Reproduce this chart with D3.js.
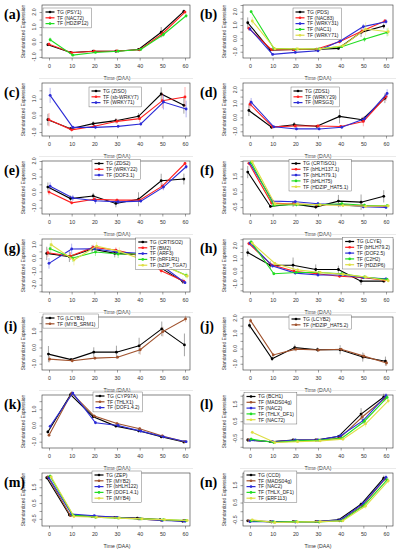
<!DOCTYPE html>
<html><head><meta charset="utf-8">
<script src="https://cdn.jsdelivr.net/npm/d3@7"></script>
<style>body{margin:0;background:#fff}svg{display:block}</style>
</head><body>
<svg id="c" width="396" height="550"></svg>
<script>
const times = [0,10,20,30,40,50,60];
const xTickLabels = ["0","10","20","30","40","50","60"];

// (a)
const aNames = ["TG (PSY1)","TF (NAC72)","TF (HDZIP12)"];
const aS0 = [-0.18,-0.70,-0.62,-0.62,-0.50,0.65,2.05];
const aS1 = [-0.15,-0.72,-0.62,-0.60,-0.52,0.55,2.00];
const aS2 = [0.15,-0.88,-0.70,-0.62,-0.50,0.50,1.75];
const aE0 = [0.10,0.05,0.05,0.05,0.05,0.35,0.12];
const aE1 = [0.10,0.05,0.05,0.05,0.05,0.20,0.10];
const aE2 = [0.15,0.05,0.05,0.05,0.05,0.15,0.15];
// (b)
const bNames = ["TG (PDS)","TF (NAC83)","TF (WRKY31)","TF (NAC1)","TF (WRKY71)"];
const bS0 = [1.17,-0.88,-0.83,-0.83,-0.75,0.45,0.92];
const bS1 = [0.75,-0.85,-0.85,-0.80,-0.25,0.55,1.30];
const bS2 = [0.70,-1.20,-1.05,-0.93,-0.18,0.88,1.25];
const bS3 = [2.00,-0.75,-0.80,-0.78,-0.62,-0.07,0.45];
const bS4 = [1.30,-0.78,-0.78,-0.80,-0.55,0.70,0.50];
const bE0 = [0.40,0.10,0.05,0.05,0.10,0.35,0.20];
const bE1 = [0.20,0.10,0.10,0.10,0.15,0.20,0.15];
const bE2 = [0.15,0.10,0.10,0.10,0.15,0.20,0.20];
const bE3 = [0.10,0.10,0.05,0.05,0.10,0.20,0.30];
const bE4 = [0.30,0.10,0.05,0.05,0.10,0.50,0.30];
// (c)
const cNames = ["TG (ZISO)","TF (sb-WRKY7)","TF (WRKY71)"];
const cS0 = [-0.26,-0.80,-0.50,-0.32,-0.06,1.28,0.60];
const cS1 = [-0.26,-0.87,-0.66,-0.36,-0.20,0.88,1.10];
const cS2 = [1.20,-0.72,-0.72,-0.66,-0.52,0.80,0.38];
const cE0 = [0.35,0.10,0.15,0.15,0.20,0.40,0.50];
const cE1 = [0.40,0.10,0.10,0.15,0.20,0.45,0.60];
const cE2 = [0.45,0.10,0.10,0.10,0.10,0.45,0.50];
// (d)
const dNames = ["TG (ZDS1)","TF (WRKY29)","TF (MRSG3)"];
const dS0 = [0.50,-0.71,-0.53,-0.64,0.07,-0.17,1.38];
const dS1 = [0.95,-0.68,-0.62,-0.62,-0.65,-0.29,1.50];
const dS2 = [1.10,-0.68,-0.83,-0.83,-0.71,-0.10,1.73];
const dE0 = [0.40,0.10,0.20,0.10,0.50,0.20,0.35];
const dE1 = [0.30,0.10,0.10,0.10,0.10,0.35,0.30];
const dE2 = [0.30,0.10,0.10,0.10,0.10,0.20,0.30];
// (e)
const eNames = ["TG (ZDS2)","TF (WRKY22)","TF (DOF3.1)"];
const eS0 = [0.32,-0.42,-0.25,-0.73,-0.46,0.73,0.84];
const eS1 = [0.00,-0.69,-0.46,-0.52,-0.52,0.38,1.84];
const eS2 = [0.38,-0.38,-0.56,-0.63,-0.58,0.32,1.63];
const eE0 = [0.30,0.20,0.20,0.25,0.45,0.45,0.35];
const eE1 = [0.20,0.10,0.15,0.10,0.10,0.20,0.10];
const eE2 = [0.25,0.20,0.20,0.15,0.10,0.20,0.15];
// (f)
const fNames = ["TG (CRTISO1)","TF (bHLH137.1)","TF (bHLH79.1)","TF (bHLH75)","TF (HDZIP_HAT5.1)"];
const fS0 = [1.78,-0.46,-0.29,-0.50,-0.11,-0.18,0.20];
const fS1 = [2.35,-0.24,-0.30,-0.35,-0.35,-0.42,-0.45];
const fS2 = [2.35,-0.11,-0.15,-0.28,-0.35,-0.48,-0.52];
const fS3 = [2.40,-0.38,-0.35,-0.35,-0.28,-0.38,-0.40];
const fS4 = [2.45,-0.30,-0.30,-0.35,-0.40,-0.45,-0.42];
const fE0 = [0.40,0.10,0.20,0.10,0.40,0.50,0.40];
const fE1 = [0.10,0.10,0.10,0.10,0.10,0.10,0.10];
const fE2 = [0.10,0.10,0.10,0.10,0.10,0.10,0.10];
const fE3 = [0.10,0.10,0.10,0.10,0.10,0.10,0.10];
const fE4 = [0.10,0.10,0.10,0.10,0.10,0.10,0.10];
// (g)
const gNames = ["TG (CRTISO2)","TF (BM2)","TF (ARF3)","TF (bRF1R1)","TF (bZIP_TGA7)"];
const gS0 = [0.35,0.10,0.68,0.35,0.25,-0.70,-1.75];
const gS1 = [0.40,0.15,0.80,0.60,0.20,-0.95,-1.75];
const gS2 = [-0.40,0.68,0.70,0.45,0.35,-0.60,-1.85];
const gS3 = [0.70,0.00,0.45,0.30,0.30,-0.55,-1.30];
const gS4 = [1.00,-0.15,0.90,0.50,-0.10,-0.60,-1.35];
const gE0 = [0.50,0.40,0.30,0.30,0.20,0.20,0.20];
const gE1 = [0.30,0.30,0.20,0.20,0.20,0.20,0.15];
const gE2 = [0.40,0.40,0.20,0.20,0.20,0.20,0.10];
const gE3 = [0.40,0.30,0.30,0.30,0.30,0.20,0.20];
const gE4 = [0.50,0.40,0.30,0.30,0.30,0.20,0.20];
// (h)
const hNames = ["TG (LCYE)","TF (bHLH79.2)","TF (DOF2.5)","TF (C2H2)","TF (HDZIP6)"];
const hS0 = [1.46,0.47,0.47,0.13,0.13,-0.78,-0.78];
const hS1 = [2.16,0.50,0.00,-0.20,-0.40,-0.50,-0.70];
const hS2 = [2.20,0.40,-0.15,-0.30,-0.30,-0.50,-0.60];
const hS3 = [2.30,-0.20,-0.10,-0.10,-0.20,-0.45,-0.65];
const hS4 = [2.20,0.60,0.10,-0.10,-0.25,-0.45,-0.75];
const hE0 = [0.30,0.30,0.60,0.40,0.30,0.30,0.10];
const hE1 = [0.15,0.10,0.10,0.10,0.10,0.10,0.10];
const hE2 = [0.15,0.10,0.10,0.10,0.10,0.10,0.10];
const hE3 = [0.10,0.10,0.10,0.10,0.10,0.10,0.10];
const hE4 = [0.15,0.10,0.10,0.10,0.10,0.10,0.10];
// (i)
const iNames = ["TG (LCYB1)","TF (MYB_SRM1)"];
const iS0 = [-0.41,-0.75,-0.29,-0.29,0.10,1.15,0.16];
const iS1 = [-0.72,-0.82,-0.66,-0.60,-0.14,0.98,1.76];
const iE0 = [0.50,0.10,0.30,0.40,0.50,0.45,0.70];
const iE1 = [0.20,0.10,0.10,0.10,0.30,0.30,0.20];
// (j)
const jNames = ["TG (LCYB2)","TF (HDZIP_HAT5.2)"];
const jS0 = [1.52,-0.67,0.06,-0.08,-0.08,-0.56,-0.83];
const jS1 = [1.83,-0.42,-0.04,-0.10,-0.05,-0.50,-0.95];
const jE0 = [0.20,0.15,0.20,0.15,0.30,0.30,0.30];
const jE1 = [0.15,0.10,0.15,0.10,0.10,0.20,0.20];
// (k)
const kNames = ["TG (CYP97A)","TF (THLX1)","TF (DOF1.4.2)"];
const kS0 = [-0.40,1.90,0.54,-0.04,-0.33,-0.70,-1.02];
const kS1 = [-0.60,2.00,0.58,0.12,-0.20,-0.65,-1.00];
const kS2 = [-0.05,2.00,0.17,0.00,-0.35,-0.70,-1.00];
const kE0 = [0.10,0.10,0.10,0.10,0.10,0.10,0.05];
const kE1 = [0.10,0.10,0.10,0.10,0.10,0.10,0.05];
const kE2 = [0.10,0.10,0.10,0.10,0.10,0.10,0.05];
// (l)
const lNames = ["TG (BCH1)","TF (MADS04g)","TF (NAC2)","TF (THLX_DF1)","TF (NAC72)"];
const lS0 = [-0.60,-0.70,-0.60,-0.60,-0.40,0.92,1.92];
const lS1 = [-0.60,-0.70,-0.62,-0.60,-0.50,0.75,1.85];
const lS2 = [-0.62,-0.70,-0.60,-0.60,-0.35,0.55,2.00];
const lS3 = [-0.55,-0.75,-0.65,-0.62,-0.50,0.50,1.90];
const lS4 = [-0.15,-0.75,-0.70,-0.65,-0.55,0.35,1.70];
const lE0 = [0.10,0.05,0.05,0.05,0.10,0.35,0.20];
const lE1 = [0.10,0.05,0.05,0.05,0.10,0.30,0.20];
const lE2 = [0.10,0.05,0.05,0.05,0.10,0.20,0.15];
const lE3 = [0.10,0.05,0.05,0.05,0.10,0.20,0.15];
const lE4 = [0.10,0.05,0.05,0.05,0.10,0.20,0.15];
// (m)
const mNames = ["TG (ZEP)","TF (MYB2)","TF (bHLH122)","TF (DOF1.4.1)","TF (MYB4)"];
const mS0 = [2.10,-0.25,-0.35,-0.40,-0.45,-0.55,-0.65];
const mS1 = [2.15,-0.30,-0.35,-0.40,-0.50,-0.60,-0.60];
const mS2 = [2.10,-0.20,-0.30,-0.40,-0.50,-0.60,-0.65];
const mS3 = [2.20,-0.25,-0.40,-0.45,-0.50,-0.55,-0.60];
const mS4 = [2.15,-0.35,-0.40,-0.45,-0.50,-0.55,-0.60];
const mE0 = [0.10,0.10,0.05,0.05,0.05,0.05,0.05];
const mE1 = [0.10,0.05,0.05,0.05,0.05,0.05,0.05];
const mE2 = [0.10,0.05,0.05,0.05,0.05,0.05,0.05];
const mE3 = [0.10,0.05,0.05,0.05,0.05,0.05,0.05];
const mE4 = [0.10,0.05,0.05,0.05,0.05,0.05,0.05];
// (n)
const nNames = ["TG (CCD)","TF (MADS04g)","TF (NAC2)","TF (THLX_DF1)","TF (ERF113)"];
const nS0 = [-0.55,-0.60,-0.60,-0.60,-0.50,0.40,1.90];
const nS1 = [-0.55,-0.62,-0.60,-0.60,-0.55,0.30,1.85];
const nS2 = [-0.60,-0.60,-0.62,-0.60,-0.50,0.45,1.95];
const nS3 = [-0.55,-0.62,-0.60,-0.62,-0.55,0.35,1.80];
const nS4 = [-0.50,-0.65,-0.62,-0.60,-0.55,0.30,1.75];
const nE0 = [0.05,0.05,0.05,0.05,0.05,0.15,0.15];
const nE1 = [0.05,0.05,0.05,0.05,0.05,0.15,0.15];
const nE2 = [0.05,0.05,0.05,0.05,0.05,0.15,0.15];
const nE3 = [0.05,0.05,0.05,0.05,0.05,0.15,0.15];
const nE4 = [0.05,0.05,0.05,0.05,0.05,0.15,0.15];

const K="#000000", R="#ff1f1f", B="#2b2bd6", G="#22dd22", Y="#dede44", N="#a0522d";

const panels = [
 {lab:"(a)",col:0,row:0,names:aNames,s:[aS0,aS1,aS2],e:[aE0,aE1,aE2],c:[K,R,G],yd:[-1.07,2.47],yl:[-1,0,1,2],lg:[43,8]},
 {lab:"(b)",col:1,row:0,names:bNames,s:[bS0,bS1,bS2,bS3,bS4],e:[bE0,bE1,bE2,bE3,bE4],c:[K,R,B,G,Y],yd:[-1.47,2.5],yl:[-1,0,1,2],lg:[293,8]},
 {lab:"(c)",col:0,row:1,names:cNames,s:[cS0,cS1,cS2],e:[cE0,cE1,cE2],c:[K,R,B],yd:[-1.24,1.94],yl:[-1,0,1],lg:[89,9]},
 {lab:"(d)",col:1,row:1,names:dNames,s:[dS0,dS1,dS2],e:[dE0,dE1,dE2],c:[K,R,B],yd:[-1.34,2.48],yl:[-1,0,1,2],lg:[291,9]},
 {lab:"(e)",col:0,row:2,names:eNames,s:[eS0,eS1,eS2],e:[eE0,eE1,eE2],c:[K,R,B],yd:[-1.41,2.0],yl:[-1,0,1,2],lg:[92,3.5]},
 {lab:"(f)",col:1,row:2,names:fNames,s:[fS0,fS1,fS2,fS3,fS4],e:[fE0,fE1,fE2,fE3,fE4],c:[K,R,B,G,Y],yd:[-0.95,2.5],yl:[-0.5,0.5,1.5],lg:[289,3.5]},
 {lab:"(g)",col:0,row:3,names:gNames,s:[gS0,gS1,gS2,gS3,gS4],e:[gE0,gE1,gE2,gE3,gE4],c:[K,R,B,G,Y],yd:[-2.55,1.43],yl:[-2,-1,0,1],lg:[190,4,"r"]},
 {lab:"(h)",col:1,row:3,names:hNames,s:[hS0,hS1,hS2,hS3,hS4],e:[hE0,hE1,hE2,hE3,hE4],c:[K,R,B,G,Y],yd:[-1.63,2.52],yl:[-1,0,1,2],lg:[393,3.5,"r"]},
 {lab:"(i)",col:0,row:4,names:iNames,s:[iS0,iS1],e:[iE0,iE1],c:[K,N],yd:[-1.39,1.88],yl:[-1,0,1],lg:[43,2]},
 {lab:"(j)",col:1,row:4,names:jNames,s:[jS0,jS1],e:[jE0,jE1],c:[K,N],yd:[-1.41,2.07],yl:[-1,0,1,2],lg:[289,3]},
 {lab:"(k)",col:0,row:5,names:kNames,s:[kS0,kS1,kS2],e:[kE0,kE1,kE2],c:[K,N,B],yd:[-1.39,1.88],yl:[-1,0,1],lg:[93,2]},
 {lab:"(l)",col:1,row:5,names:lNames,s:[lS0,lS1,lS2,lS3,lS4],e:[lE0,lE1,lE2,lE3,lE4],c:[K,N,B,G,Y],yd:[-1.07,2.04],yl:[-0.5,0.5,1.5],lg:[244,2.5]},
 {lab:"(m)",col:0,row:6,names:mNames,s:[mS0,mS1,mS2,mS3,mS4],e:[mE0,mE1,mE2,mE3,mE4],c:[K,N,B,G,Y],yd:[-0.95,2.4],yl:[-0.5,0.5,1.5],lg:[92,3]},
 {lab:"(n)",col:1,row:6,names:nNames,s:[nS0,nS1,nS2,nS3,nS4],e:[nE0,nE1,nE2,nE3,nE4],c:[K,N,B,G,Y],yd:[-0.85,2.2],yl:[-0.5,0.5,1.5],lg:[244,3]}
];

const svg = d3.select("#c");
svg.append("rect").attr("width",396).attr("height",550).attr("fill","#fff");
const FONT = "'Liberation Sans', Arial, sans-serif";
const cols = [{bl:42,br:190,x0:49,x60:185,ax:117},{bl:243,br:393,x0:250,x60:386,ax:318}];

panels.forEach(p=>{
  const C = cols[p.col], top = p.row*78;
  const g = svg.append("g");
  const x = d3.scaleLinear().domain([0,60]).range([C.x0,C.x60]);
  const y = d3.scaleLinear().domain(p.yd).range([top+58, top+5]);
  if (p.row>0) g.append("line").attr("x1",C.bl-3).attr("x2",C.br+3).attr("y1",top+0.5).attr("y2",top+0.5).attr("stroke","#dcdcdc").attr("stroke-width",0.6);
  const xa = g.append("g").attr("transform",`translate(0,${top+58})`)
    .call(d3.axisBottom(x).tickValues(times).tickFormat((d,i)=>xTickLabels[i]).tickSize(2.5).tickPadding(4));
  const yt = d3.range(Math.ceil(p.yd[0]*2)/2, p.yd[1]+1e-9, 0.5);
  const ya = g.append("g").attr("transform",`translate(${C.bl},0)`)
    .call(d3.axisLeft(y).tickValues(yt).tickFormat("").tickSize(2.5));
  [xa,ya].forEach(a=>{a.select(".domain").remove(); a.selectAll("line").attr("stroke","#444").attr("stroke-width",0.5);
    a.selectAll("text").attr("font-size",5.3).attr("font-family",FONT).attr("fill","#333");});
  p.yl.forEach(v=>{
    g.append("text").attr("transform",`translate(${C.bl-6.5},${y(v)}) rotate(-90)`).attr("text-anchor","middle")
     .attr("font-size",5.2).attr("font-family",FONT).attr("fill","#333").text(d3.format(".1f")(v).replace("−","-"));
  });
  g.append("rect").attr("x",C.bl).attr("y",top+5).attr("width",C.br-C.bl).attr("height",53)
    .attr("fill","none").attr("stroke","#333").attr("stroke-width",0.6);
  g.append("text").attr("transform",`translate(${C.bl-17.5},${top+31.5}) rotate(-90)`).attr("text-anchor","middle")
    .attr("font-size",4.8).attr("font-family",FONT).attr("fill","#333").text("Standardized Expression");
  g.append("text").attr("x",C.ax).attr("y",top+80).attr("text-anchor","middle")
    .attr("font-size",5.2).attr("font-family",FONT).attr("fill","#333").text("Time (DAA)");
  g.append("text").attr("x",p.col*196+4).attr("y",top+19).attr("font-size",14).attr("font-weight","bold")
    .attr("font-family","'Liberation Serif','Times New Roman',serif").text(p.lab);
  const n = p.s.length;
  p.s.forEach((vals,si)=>{
    const dx = (si-(n-1)/2)*0.5;
    const pts = vals.map((v,i)=>({t:times[i]+dx,v,e:p.e[si][i]}));
    const col = p.c[si];
    g.append("g").selectAll("line").data(pts).join("line")
      .attr("x1",d=>x(d.t)).attr("x2",d=>x(d.t)).attr("y1",d=>y(d.v-d.e)).attr("y2",d=>y(d.v+d.e))
      .attr("stroke",col).attr("stroke-opacity",0.45).attr("stroke-width",0.8);
    g.append("path").datum(pts).attr("fill","none").attr("stroke",col).attr("stroke-width",1.1)
      .attr("d",d3.line().x(d=>x(d.t)).y(d=>y(d.v)));
    g.append("g").selectAll("circle").data(pts).join("circle")
      .attr("cx",d=>x(d.t)).attr("cy",d=>y(d.v)).attr("r",1.4).attr("fill",col);
  });
  const lg = g.append("g");
  const sp = 5.8;
  const texts = p.names.map((nm,i)=>lg.append("text").attr("x",0).attr("y",top+p.lg[1]+4+i*sp+1.8)
      .attr("font-size",5).attr("font-family",FONT).attr("fill","#222").text(nm));
  const tw = d3.max(texts,t=>t.node().getComputedTextLength());
  const bw = tw + 17, bh = n*sp + 2.5;
  const lx = p.lg[2]==="r" ? p.lg[0]-bw : p.lg[0];
  lg.insert("rect","text").attr("x",lx).attr("y",top+p.lg[1]).attr("width",bw).attr("height",bh)
    .attr("fill","#fff").attr("stroke","#555").attr("stroke-width",0.4);
  texts.forEach(t=>t.attr("x",lx+14));
  p.names.forEach((nm,i)=>{
    const yy = top+p.lg[1]+4+i*sp;
    lg.append("line").attr("x1",lx+2.5).attr("x2",lx+11.5).attr("y1",yy).attr("y2",yy).attr("stroke",p.c[i]).attr("stroke-width",1.2);
    lg.append("circle").attr("cx",lx+7).attr("cy",yy).attr("r",1.3).attr("fill",p.c[i]);
  });
});
</script>
</body></html>
